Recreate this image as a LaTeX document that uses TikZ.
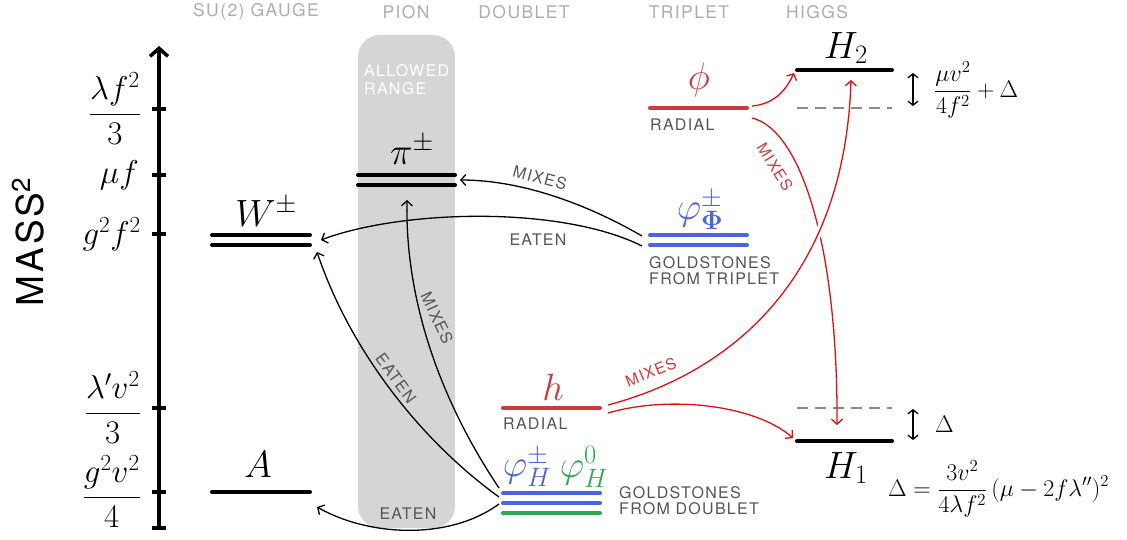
\RequirePackage{fix-cm}
\documentclass[tikz,border=0pt]{standalone}
\usepackage[no-math]{fontspec}
\newfontfamily\hv[LetterSpace=8]{TeX Gyre Heros}
\usetikzlibrary{arrows.meta}
\definecolor{lvred}{HTML}{CC3B3B}
\definecolor{arred}{HTML}{DD1111}
\definecolor{lvblue}{HTML}{4A63E0}
\definecolor{lvgreen}{HTML}{2FA84F}
\definecolor{txtgray}{HTML}{555555}
\definecolor{hdgray}{HTML}{ADADAD}
\definecolor{bandgray}{HTML}{D5D5D5}
\definecolor{dashgray}{HTML}{8A8A8A}
\begin{document}
\begin{tikzpicture}[x=1pt,y=-1pt,
  lvl/.style={line width=4pt,line cap=round},
  dashlvl/.style={line width=2.5pt,dashgray,dash pattern=on 11pt off 7pt},
  bconn/.style={line width=1.3pt,black,-{Straight Barb[length=5pt,width=11pt,line width=1.3pt]}},
  rconn/.style={line width=1.3pt,arred,-{Straight Barb[length=5pt,width=11pt,line width=1.3pt]}},
  dbl/.style={line width=1.3pt,{Straight Barb[length=4pt,width=10pt]}-{Straight Barb[length=4pt,width=10pt]}},
  hdr/.style={font=\hv\fontsize{17.5}{20}\selectfont,text=hdgray,inner sep=0pt},
  lbl/.style={font=\hv\fontsize{16}{16.5}\selectfont,text=txtgray,inner sep=0pt,align=left},
  mbig/.style={font=\fontsize{38}{40}\selectfont,inner sep=0pt},
  maxis/.style={font=\fontsize{33}{36}\selectfont,inner sep=0pt,anchor=east},
  mside/.style={font=\fontsize{24}{27}\selectfont,inner sep=0pt}]
\useasboundingbox (0,0) rectangle (1127,540);

% band
\fill[bandgray,rounded corners=22pt] (358,35) rectangle (455,528);
\node[font=\hv\fontsize{16}{18}\selectfont,text=white,inner sep=0pt,anchor=north west,align=left] (allowed) at (364,64) {ALLOWED\\RANGE};

% headers
\node[hdr] (h1) at (256,12) {SU(2) GAUGE};
\node[hdr] (h2) at (406,12) {PION};
\node[hdr] (h3) at (524,12) {DOUBLET};
\node[hdr] (h4) at (689,12) {TRIPLET};
\node[hdr] (h5) at (817,12) {HIGGS};

% MASS^2
\node[font=\hv\fontsize{37}{40}\selectfont,rotate=90,inner sep=0pt] (mass) at (28,242) {MASS\textsuperscript{2}};

% axis
\draw[line width=4pt,-{Straight Barb[length=8pt,width=18pt,line width=3.5pt]}] (159,528) -- (159,46);
\foreach \yy in {109,175,234,408,492,528} \draw[line width=4pt] (152,\yy) -- (166,\yy);
\node[maxis] (a1) at (141,109) {$\displaystyle\frac{\lambda f^2}{3}$};
\node[maxis] (a2) at (139,175) {$\mu f$};
\node[maxis] (a3) at (141,234) {$g^2 f^2$};
\node[maxis] (a4) at (141,408) {$\displaystyle\frac{\lambda' v^2}{3}$};
\node[maxis] (a5) at (141,492) {$\displaystyle\frac{g^2 v^2}{4}$};

% levels
\draw[lvl] (212,235) -- (310,235);
\draw[lvl] (212,245) -- (310,245);
\draw[lvl] (212,492) -- (310,492);
\draw[lvl] (358,175) -- (455,175);
\draw[lvl] (358,185) -- (455,185);
\draw[lvl,lvred] (503,408) -- (600,408);
\draw[lvl,lvblue] (503,493) -- (600,493);
\draw[lvl,lvblue] (503,503) -- (600,503);
\draw[lvl,lvgreen] (503,513) -- (600,513);
\draw[lvl,lvred] (650,108) -- (747,108);
\draw[lvl,lvblue] (650,235) -- (747,235);
\draw[lvl,lvblue] (650,245) -- (747,245);
\draw[lvl] (797,70) -- (892,70);
\draw[dashlvl] (797,108) -- (892,108);
\draw[dashlvl] (797,408) -- (892,408);
\draw[lvl] (797,441) -- (892,441);

% particle labels
\node[mbig] (W) at (266,212) {$W^{\pm}$};
\node[mbig] (A) at (258,465) {$A$};
\node[mbig] (pi) at (412,150) {$\pi^{\pm}$};
\node[mbig,text=lvred] (h) at (553,387) {$h$};
\node[mbig,text=lvblue] (phH) at (527,467) {$\varphi^{\pm}_{H}$};
\node[mbig,text=lvgreen] (phH0) at (584,467) {$\varphi^{0}_{H}$};
\node[mbig,text=lvred] (phi) at (699,80) {$\phi$};
\node[mbig,text=lvblue] (phT) at (700,210) {$\varphi^{\pm}_{\mathbf{\Phi}}$};
\node[mbig] (H2) at (846,48) {$H_2$};
\node[mbig] (H1) at (846,468) {$H_1$};

% text labels
\node[lbl,anchor=west] (rad1) at (503,424) {RADIAL};
\node[lbl,anchor=west] (rad2) at (650,125) {RADIAL};
\node[lbl,anchor=north west] (gt) at (649,256) {GOLDSTONES\\FROM TRIPLET};
\node[lbl,anchor=north west] (gd) at (619,486) {GOLDSTONES\\FROM DOUBLET};

% side annotations
\draw[dbl] (913,73) -- (913,106);
\draw[dbl] (913,409) -- (913,440);
\node[mside,anchor=west] (d1) at (934,90) {$\displaystyle\frac{\mu v^2}{4f^2}+\Delta$};
\node[mside,anchor=west] (d2) at (935,424) {$\Delta$};
\node[mside,anchor=west] (d3) at (888,489) {$\Delta=\displaystyle\frac{3v^2}{4\lambda f^2}\,(\mu-2f\lambda'')^2$};

% connector endpoints
\coordinate (phiOutA) at (752,106);
\coordinate (H2inA) at (794,73);
\coordinate (phiOutB) at (752,118);
\coordinate (H1inA) at (837,425);
\coordinate (hOutA) at (608,405);
\coordinate (H2inB) at (851,80);
\coordinate (hOutB) at (608,413);
\coordinate (H1inB) at (793,438);
\coordinate (tOutA) at (642,236);
\coordinate (piInA) at (460,180);
\coordinate (tOutB) at (642,246);
\coordinate (WinA) at (321,240);
\coordinate (dOutA) at (499,488);
\coordinate (piInB) at (407,200);
\coordinate (dOutB) at (499,497);
\coordinate (WinB) at (317,252);
\coordinate (dOutC) at (499,504);
\coordinate (Ain) at (317,507);

% red connectors
\draw[rconn] (phiOutA) .. controls (776,104) and (787,88) .. (H2inA);
\draw[rconn] (phiOutB) .. controls (802,130) and (838,250) .. (H1inA);
\begin{scope}
\clip (795,205) rectangle (850,260);
\draw[white,line width=7pt] (hOutA) .. controls (740,370) and (845,270) .. (H2inB);
\end{scope}
\draw[rconn] (hOutA) .. controls (740,370) and (845,270) .. (H2inB);
\draw[rconn] (hOutB) .. controls (670,395) and (755,405) .. (H1inB);
\node[font=\hv\fontsize{15.5}{18}\selectfont,text=lvred,inner sep=0pt,rotate=22] (mx1) at (651,372) {MIXES};
\node[font=\hv\fontsize{15.5}{18}\selectfont,text=lvred,inner sep=0pt,rotate=-58] (mx2) at (775,167) {MIXES};

% black connectors
\draw[bconn] (tOutA) .. controls (585,203) and (520,180) .. (piInA);
\draw[bconn] (tOutB) .. controls (560,205) and (400,210) .. (WinA);
\draw[bconn] (dOutA) .. controls (440,400) and (405,300) .. (piInB);
\draw[bconn] (dOutB) .. controls (420,440) and (350,350) .. (WinB);
\draw[bconn] (dOutC) .. controls (450,540) and (370,537) .. (Ain);
\node[lbl,rotate=-15] (mx3) at (540,178) {MIXES};
\node[lbl] (et1) at (538,240) {EATEN};
\node[lbl,rotate=-65] (mx4) at (437,318) {MIXES};
\node[lbl,rotate=-54] (et2) at (396,378) {EATEN};
\node[lbl] (et3) at (408,514) {EATEN};
\end{tikzpicture}
\end{document}
